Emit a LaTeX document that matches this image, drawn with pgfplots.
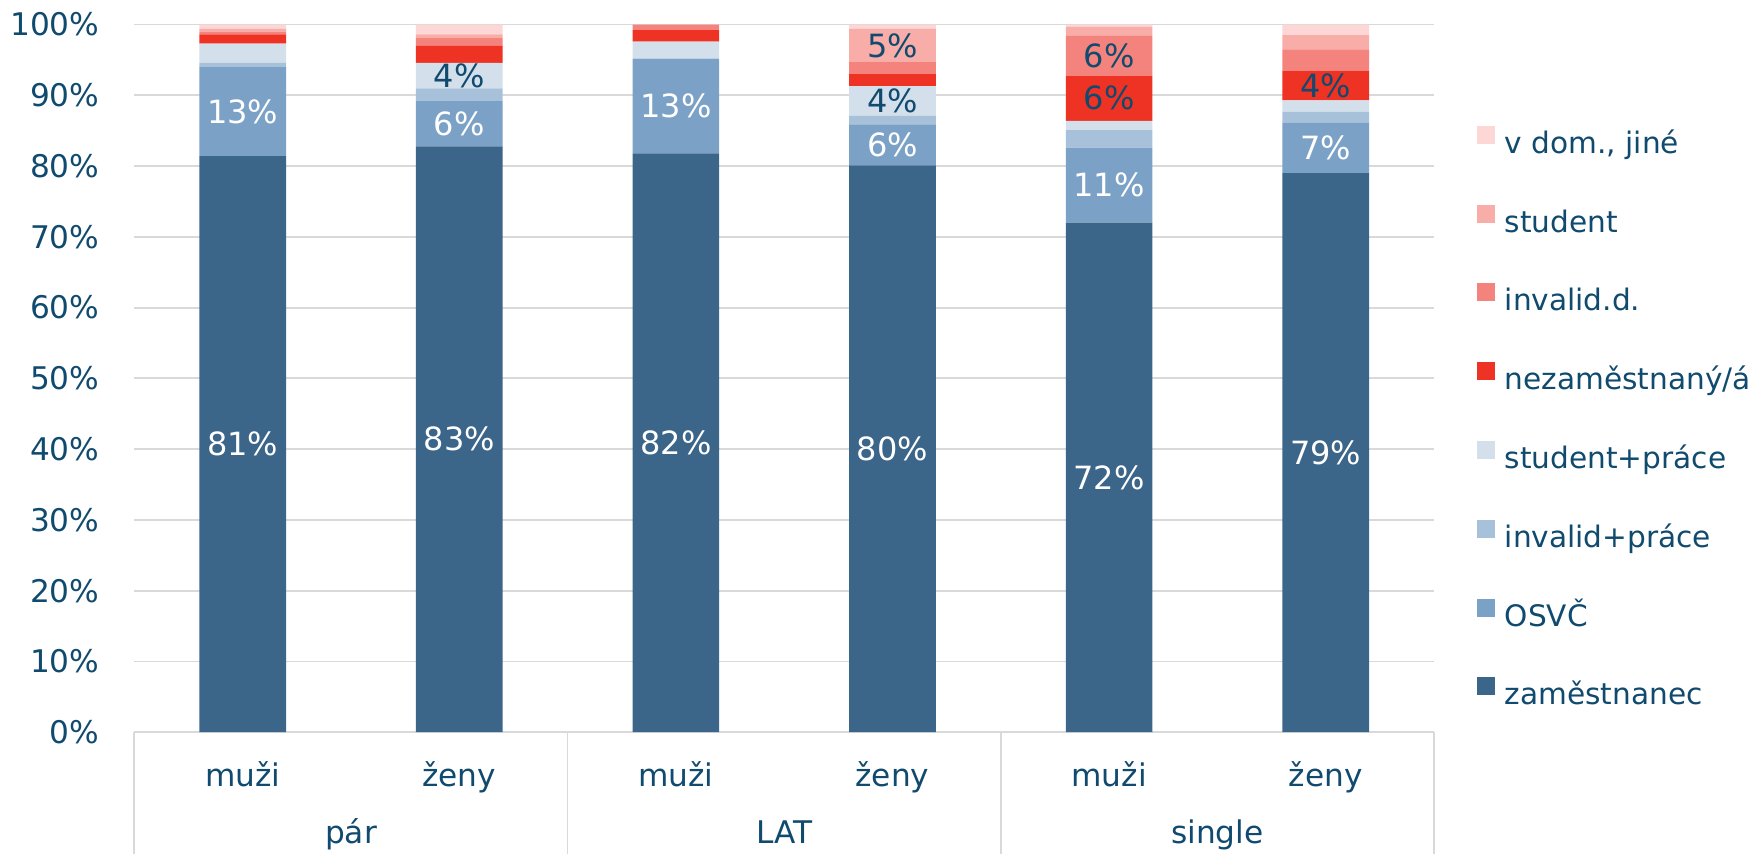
\documentclass[border=0pt]{standalone}
\usepackage{fontspec}
\setmainfont{DejaVu Sans}
\usepackage{pgfplots}
\usepackage{pgfplotstable}
\pgfplotsset{compat=1.18}
\definecolor{txt}{RGB}{16,74,110}
\definecolor{cZam}{RGB}{60,101,138}
\definecolor{cOsvc}{RGB}{123,162,198}
\definecolor{cInvP}{RGB}{168,193,218}
\definecolor{cStuP}{RGB}{211,223,234}
\definecolor{cNez}{RGB}{238,50,36}
\definecolor{cInvD}{RGB}{244,131,125}
\definecolor{cStu}{RGB}{248,173,168}
\definecolor{cDom}{RGB}{252,215,213}
\definecolor{gridc}{RGB}{217,217,217}
\pgfplotstableread{
x zam osvc invp stup nez invd stu dom
0 81.4 12.6 0.6 2.7 1.3 0.4 0.4 0.6
1 82.8 6.4 1.8 3.6 2.4 1.1 0.5 1.4
2 81.8 13.4 0 2.4 1.6 0.8 0 0
3 80.1 5.8 1.2 4.2 1.7 1.7 4.7 0.6
4 72.0 10.6 2.5 1.3 6.4 5.6 1.3 0.3
5 79.0 7.1 1.6 1.6 4.2 3.0 2.0 1.5
}\data
\begin{document}
\begin{tikzpicture}[font=\fontsize{7.8}{9.4}\selectfont, text=txt]
\useasboundingbox (-33.6pt,-30.5pt) rectangle (405.65pt,183.05pt);
\begin{axis}[
  at={(0,0)}, anchor=south west,
  scale only axis, width=324.9pt, height=176.9pt,
  ybar stacked, bar width=0.4,
  xmin=-0.5, xmax=5.5, ymin=0, ymax=100,
  clip=false,
  axis x line*=bottom, axis y line*=left,
  x axis line style={draw=gridc, line width=0.5pt, -},
  y axis line style={draw=none},
  ytick={0,10,...,100},
  yticklabel={\pgfmathprintnumber{\tick}\%},
  /pgf/number format/assume math mode=true,
  yticklabel style={anchor=east, xshift=-5.2pt, text=txt},
  xtick={0,...,5}, xticklabels={muži,ženy,muži,ženy,muži,ženy},
  xticklabel style={anchor=base, yshift=-13.5pt, text=txt},
  major tick length=0pt,
  ymajorgrids, grid style={draw=gridc, line width=0.45pt},
  visualization depends on=rawy \as \rawy,
  nodes near coords={\ifdim\rawy pt>3.5pt\pgfmathprintnumber[fixed,precision=0]{\rawy}\%\fi},
  every node near coord/.append style={anchor=center, text=txt, font=\fontsize{8}{9.6}\selectfont},
  legend style={at={(rel axis cs:1,1)}, anchor=north west, xshift=10.8pt, yshift=-25.3pt,
    draw=none, fill=none, inner sep=0pt, outer sep=0pt, row sep=11pt,
    font=\fontsize{7.4}{8.9}\selectfont,
    nodes={inner sep=0pt, text height=6pt, text depth=1.8pt, text=txt},
    /tikz/every odd column/.append style={column sep=2.4pt}},
  legend cell align=left, reverse legend,
  legend image code/.code={\fill[#1] (0pt,0.3pt) rectangle (4.5pt,4.8pt);},
]
\addplot[fill=cZam, draw=none, every node near coord/.append style={text=white}] table[x=x,y=zam] {\data};
\addplot[fill=cOsvc, draw=none, every node near coord/.append style={text=white}] table[x=x,y=osvc] {\data};
\addplot[fill=cInvP, draw=none] table[x=x,y=invp] {\data};
\addplot[fill=cStuP, draw=none] table[x=x,y=stup] {\data};
\addplot[fill=cNez, draw=none] table[x=x,y=nez] {\data};
\addplot[fill=cInvD, draw=none] table[x=x,y=invd] {\data};
\addplot[fill=cStu, draw=none] table[x=x,y=stu] {\data};
\addplot[fill=cDom, draw=none] table[x=x,y=dom] {\data};
\legend{zaměstnanec, OSVČ, invalid+práce, student+práce, nezaměstnaný/á, invalid.d., student, {v dom., jiné}}
\draw[gridc, line width=0.45pt] (axis cs:-0.5,0) -- ++(0pt,-30.5pt);
\draw[gridc, line width=0.45pt] (axis cs:1.5,0) -- ++(0pt,-30.5pt);
\draw[gridc, line width=0.45pt] (axis cs:3.5,0) -- ++(0pt,-30.5pt);
\draw[gridc, line width=0.45pt] (axis cs:5.5,0) -- ++(0pt,-30.5pt);
\node[anchor=base, text=txt] at ([yshift=-27.75pt]axis cs:0.5,0) {pár};
\node[anchor=base, text=txt] at ([yshift=-27.75pt]axis cs:2.5,0) {LAT};
\node[anchor=base, text=txt] at ([yshift=-27.75pt]axis cs:4.5,0) {single};
\end{axis}
\end{tikzpicture}
\end{document}
